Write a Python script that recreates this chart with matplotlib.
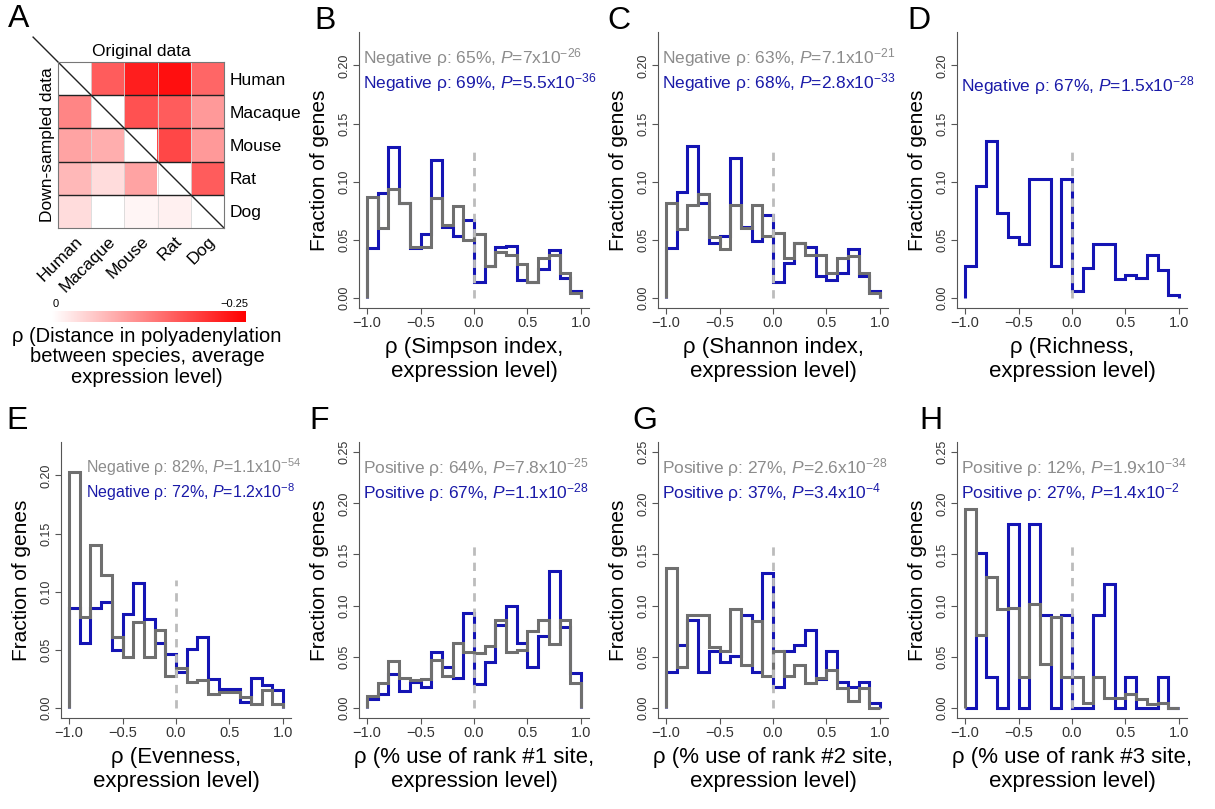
"""Diversity of polyadenylation vs expression level: heatmap (A) and rho histograms (B-H)."""

import numpy as np
import matplotlib
matplotlib.use("Agg")
import matplotlib.pyplot as plt
from matplotlib.colors import LinearSegmentedColormap

plt.rcParams['font.family'] = ['Liberation Sans', 'DejaVu Sans']
plt.rcParams['mathtext.fontset'] = 'custom'
plt.rcParams['mathtext.rm'] = 'Liberation Sans'
plt.rcParams['mathtext.it'] = 'Liberation Sans:italic'

GRAY_LINE, BLUE_LINE = "#6f6f6f", "#1414b4"
GRAY_TEXT, BLUE_TEXT = "#8c8c8c", "#1a1aa8"

# ---- panel A data: upper triangle = original data, lower = down-sampled
SPECIES = ["Human", "Macaque", "Mouse", "Rat", "Dog"]
DIST_RHO = np.array([
    [np.nan, -0.16, -0.22, -0.235, -0.15],
    [-0.12, np.nan, -0.17, -0.16, -0.10],
    [-0.09, -0.08, np.nan, -0.18, -0.10],
    [-0.07, -0.035, -0.09, np.nan, -0.16],
    [-0.035, 0.0, -0.01, -0.015, np.nan],
])

# ---- histogram data (fraction of genes per 0.1-wide rho bin, -1..1)
BIN_EDGES = np.round(np.linspace(-1.0, 1.0, 21), 2)

simpson_gray = [0.087, 0.060, 0.094, 0.082, 0.044, 0.044, 0.086, 0.063, 0.079, 0.050,
                0.055, 0.027, 0.039, 0.037, 0.029, 0.014, 0.034, 0.037, 0.021, 0.004]
simpson_blue = [0.043, 0.090, 0.130, 0.082, 0.043, 0.055, 0.119, 0.061, 0.053, 0.067,
                0.014, 0.027, 0.044, 0.045, 0.015, 0.014, 0.025, 0.041, 0.017, 0.006]

shannon_gray = [0.082, 0.059, 0.080, 0.089, 0.052, 0.042, 0.080, 0.060, 0.080, 0.053,
                0.056, 0.034, 0.047, 0.037, 0.037, 0.021, 0.034, 0.036, 0.021, 0.004]
shannon_blue = [0.043, 0.091, 0.131, 0.082, 0.047, 0.053, 0.120, 0.061, 0.049, 0.071,
                0.014, 0.030, 0.047, 0.044, 0.019, 0.015, 0.021, 0.042, 0.019, 0.006]

richness_blue = [0.027, 0.096, 0.135, 0.073, 0.052, 0.046, 0.102, 0.102, 0.027, 0.102,
                 0.006, 0.026, 0.046, 0.046, 0.016, 0.020, 0.017, 0.037, 0.024, 0.002]

evenness_gray = [0.203, 0.078, 0.140, 0.114, 0.061, 0.044, 0.074, 0.044, 0.067, 0.027,
                 0.034, 0.022, 0.024, 0.012, 0.014, 0.014, 0.009, 0.003, 0.015, 0.003]
evenness_blue = [0.086, 0.056, 0.086, 0.091, 0.050, 0.081, 0.107, 0.076, 0.056, 0.046,
                 0.031, 0.051, 0.061, 0.025, 0.016, 0.016, 0.005, 0.026, 0.020, 0.015]

rank1_gray = [0.012, 0.024, 0.046, 0.029, 0.027, 0.028, 0.047, 0.031, 0.063, 0.055,
              0.054, 0.060, 0.086, 0.055, 0.057, 0.075, 0.086, 0.062, 0.086, 0.024]
rank1_blue = [0.009, 0.013, 0.033, 0.016, 0.025, 0.020, 0.055, 0.040, 0.029, 0.093,
              0.023, 0.045, 0.081, 0.100, 0.063, 0.040, 0.070, 0.134, 0.079, 0.034]

rank2_gray = [0.137, 0.040, 0.091, 0.091, 0.059, 0.056, 0.097, 0.042, 0.085, 0.031,
              0.056, 0.031, 0.042, 0.024, 0.029, 0.037, 0.019, 0.007, 0.019, 0.000]
rank2_blue = [0.035, 0.061, 0.086, 0.035, 0.056, 0.045, 0.051, 0.091, 0.035, 0.132,
              0.020, 0.056, 0.061, 0.076, 0.028, 0.056, 0.025, 0.020, 0.025, 0.005]

rank3_gray = [0.194, 0.071, 0.128, 0.097, 0.098, 0.030, 0.102, 0.043, 0.089, 0.030,
              0.030, 0.005, 0.030, 0.010, 0.010, 0.013, 0.009, 0.004, 0.005, 0.000]
rank3_blue = [0.000, 0.151, 0.030, 0.000, 0.180, 0.000, 0.180, 0.091, 0.000, 0.091,
              0.000, 0.000, 0.091, 0.121, 0.000, 0.030, 0.000, 0.000, 0.030, 0.000]

PANELS = [
    # letter, column, row, x label, gray, blue, gray note, blue note, y max
    ("B", 1, 0, "ρ (Simpson index,\nexpression level)", simpson_gray, simpson_blue,
     r"Negative ρ: 65%, $\mathit{P}$=7x10$^{-26}$", r"Negative ρ: 69%, $\mathit{P}$=5.5x10$^{-36}$", 0.22),
    ("C", 2, 0, "ρ (Shannon index,\nexpression level)", shannon_gray, shannon_blue,
     r"Negative ρ: 63%, $\mathit{P}$=7.1x10$^{-21}$", r"Negative ρ: 68%, $\mathit{P}$=2.8x10$^{-33}$", 0.22),
    ("D", 3, 0, "ρ (Richness,\nexpression level)", None, richness_blue,
     None, r"Negative ρ: 67%, $\mathit{P}$=1.5x10$^{-28}$", 0.22),
    ("E", 0, 1, "ρ (Evenness,\nexpression level)", evenness_gray, evenness_blue,
     r"Negative ρ: 82%, $\mathit{P}$=1.1x10$^{-54}$", r"Negative ρ: 72%, $\mathit{P}$=1.2x10$^{-8}$", 0.22),
    ("F", 1, 1, "ρ (% use of rank #1 site,\nexpression level)", rank1_gray, rank1_blue,
     r"Positive ρ: 64%, $\mathit{P}$=7.8x10$^{-25}$", r"Positive ρ: 67%, $\mathit{P}$=1.1x10$^{-28}$", 0.25),
    ("G", 2, 1, "ρ (% use of rank #2 site,\nexpression level)", rank2_gray, rank2_blue,
     r"Positive ρ: 27%, $\mathit{P}$=2.6x10$^{-28}$", r"Positive ρ: 37%, $\mathit{P}$=3.4x10$^{-4}$", 0.25),
    ("H", 3, 1, "ρ (% use of rank #3 site,\nexpression level)", rank3_gray, rank3_blue,
     r"Positive ρ: 12%, $\mathit{P}$=1.9x10$^{-34}$", r"Positive ρ: 27%, $\mathit{P}$=1.4x10$^{-2}$", 0.25),
]

W, H = 1215, 809
COL_LEFT = [61, 359, 658, 957]      # pixel left of each histogram column
ROW_BOTTOM = [308, 718]             # pixel bottom of each row
AX_W, AX_H = 230, 276
LETTER_XY = {"B": (314, 6), "C": (607, 6), "D": (907, 6),
             "E": (6, 406), "F": (309, 406), "G": (632, 406), "H": (919, 406)}


def px_rect(left, bottom, w, h):
    return [left / W, (H - bottom) / H, w / W, h / H]


def draw_hist(fig, letter, col, row, xlabel, gray, blue, gnote, bnote, ymax):
    ax = fig.add_axes(px_rect(COL_LEFT[col], ROW_BOTTOM[row], AX_W, AX_H))
    pad = 0.04 * ymax
    ax.set_xlim(-1.075, 1.075)
    ax.set_ylim(-pad, ymax + pad)
    if blue is not None:
        ax.stairs(blue, BIN_EDGES, color=BLUE_LINE, lw=2.2, baseline=0, zorder=2)
    if gray is not None:
        ax.stairs(gray, BIN_EDGES, color=GRAY_LINE, lw=2.2, baseline=0, zorder=2.5)
    dash_top = 0.13 if ymax < 0.25 else 0.16
    if letter == "E":
        dash_top = 0.11
    ax.plot([0, 0], [0, dash_top], color="#bcbcbc", lw=2, ls=(0, (3, 2.5)), zorder=3)

    for s in ("top", "right"):
        ax.spines[s].set_visible(False)
    for s in ("left", "bottom"):
        ax.spines[s].set_color("#555555")
    ax.set_xticks([-1.0, -0.5, 0.0, 0.5, 1.0])
    ax.set_xticklabels(["\u22121.0", "\u22120.5", "0.0", "0.5", "1.0"])
    ax.set_yticks(np.arange(0, ymax + 0.001, 0.05))
    ax.set_yticklabels([f"{v:.2f}" for v in np.arange(0, ymax + 0.001, 0.05)],
                       rotation=90, va="center")
    ax.tick_params(axis="x", labelsize=10.5, colors="#555555", labelcolor="#333333",
                   length=4, pad=2)
    ax.tick_params(axis="y", labelsize=9, colors="#555555", labelcolor="#333333",
                   length=4, pad=2)

    ax.set_ylabel("Fraction of genes", fontsize=15)
    ax.yaxis.set_label_coords(-0.13, 0.5)
    ax.text(0.5, -0.105, xlabel, transform=ax.transAxes, ha="center", va="top",
            fontsize=16, linespacing=1.2)

    fs = 11.5 if letter == "E" else 12.5
    tx = -0.84 if letter == "E" else -1.04
    top = ymax + pad
    if gnote is not None:
        ax.text(tx, 0.905 * top, gnote, color=GRAY_TEXT, fontsize=fs, va="center")
        ax.text(tx, 0.81 * top, bnote, color=BLUE_TEXT, fontsize=fs, va="center")
    else:
        ax.text(tx, 0.80 * top, bnote, color=BLUE_TEXT, fontsize=fs, va="center")

    lx, ly = LETTER_XY[letter]
    fig.text(lx / W, 1 - ly / H, letter, fontsize=23, va="top")
    return ax


def draw_heatmap(fig):
    cmap = LinearSegmentedColormap.from_list("wr", ["#ff0000", "#ffffff"])
    cmap.set_bad("white")
    ax = fig.add_axes(px_rect(58, 228, 166, 166))
    ax.imshow(np.ma.masked_invalid(DIST_RHO), cmap=cmap, vmin=-0.25, vmax=0,
              aspect="auto")
    n = len(SPECIES)
    for k in range(1, n):
        ax.axvline(k - 0.5, color="#d8d8d8", lw=0.6)
        ax.axhline(k - 0.5, color="#222222", lw=1.0)
    for s in ax.spines.values():
        s.set_color("#777777")
        s.set_linewidth(0.8)
    # diagonal divider between original (upper) and down-sampled (lower)
    ax.plot([-0.5 - 0.75, n - 0.5], [-0.5 - 0.75, n - 0.5], color="#222222", lw=1.0,
            clip_on=False)
    ax.set_xlim(-0.5, n - 0.5)
    ax.set_ylim(n - 0.5, -0.5)
    ax.yaxis.tick_right()
    ax.set_yticks(range(n))
    ax.set_yticklabels(SPECIES, fontsize=12.5)
    ax.set_xticks(range(n))
    ax.set_xticklabels(SPECIES, fontsize=12.5, rotation=45, ha="right",
                       rotation_mode="anchor")
    ax.tick_params(length=0, pad=4)
    ax.text(0.5, 1.02, "Original data", transform=ax.transAxes, ha="center",
            va="bottom", fontsize=12.5)
    ax.text(-0.02, 0.5, "Down-sampled data", transform=ax.transAxes, ha="right",
            va="center", rotation=90, fontsize=12.5)
    fig.text(8 / W, 1 - 4 / H, "A", fontsize=23, va="top")

    # colour key: 0 (left) to -0.25 (right)
    cax = fig.add_axes(px_rect(52, 322, 194, 11))
    grad = np.linspace(0, -0.25, 256)[None, :]
    cax.imshow(grad, cmap=cmap, vmin=-0.25, vmax=0, aspect="auto",
               extent=[0, -0.25, 0, 1])
    cax.set_xlim(0, -0.25)
    cax.axis("off")
    cax.text(0.02, 1.15, "0", transform=cax.transAxes, fontsize=8, ha="center",
             va="bottom")
    cax.text(0.94, 1.15, "\u22120.25", transform=cax.transAxes, fontsize=8,
             ha="center", va="bottom")
    fig.text(147 / W, 1 - 327 / H,
             "ρ (Distance in polyadenylation\nbetween species, average\nexpression level)",
             ha="center", va="top", fontsize=14.5, linespacing=1.1)


def main():
    fig = plt.figure(figsize=(W / 100, H / 100), dpi=100)
    draw_heatmap(fig)
    for p in PANELS:
        draw_hist(fig, *p)
    fig.savefig("out.png", dpi=100)


if __name__ == "__main__":
    main()
